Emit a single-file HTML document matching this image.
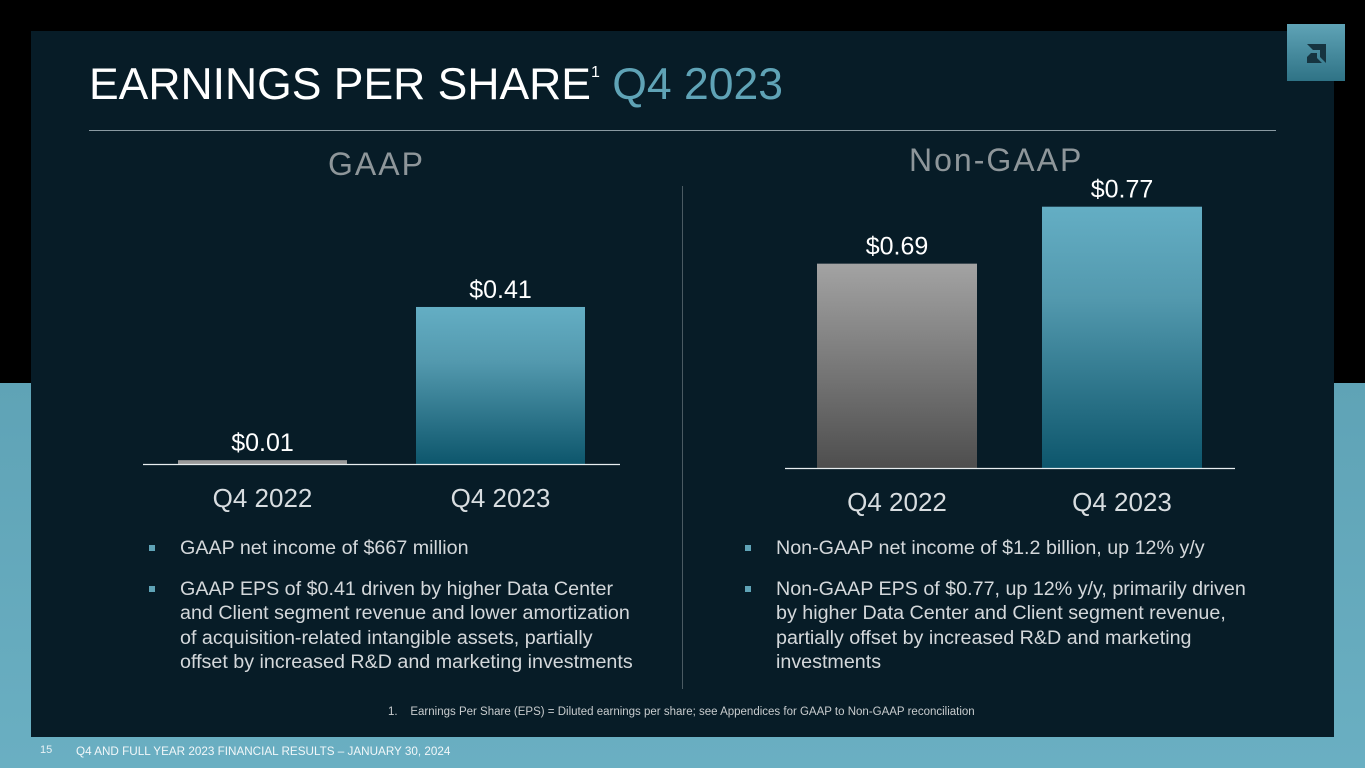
<!DOCTYPE html>
<html><head><meta charset="utf-8"><style>
body{margin:0;width:1365px;height:768px;position:relative;overflow:hidden;font-family:"Liberation Sans",sans-serif;background:linear-gradient(180deg,#000 0,#000 383px,#5fa3b6 383px,#6aafc2 768px);}
.abs{position:absolute}
#panel{left:31px;top:31px;width:1303px;height:706px;background:#071c27}
.t{color:#fff;white-space:nowrap}
ul{margin:0;padding:0;list-style:none}
li{position:relative;padding-left:32px;color:#d4d8db;font-size:19.7px;line-height:24.5px;margin-bottom:16px}
li:before{content:"";position:absolute;left:1px;top:9px;width:6px;height:6px;background:#5fa3b6}
</style></head><body>
<div id="panel" class="abs"></div>
<div class="abs" style="left:1287px;top:24px;width:58px;height:57px;background:linear-gradient(180deg,#5fa3b6,#2f7386)">
<svg width="58" height="57"><polygon points="20,20 39,20 39,39 33,33 33,26 26,26" fill="#163440"/><polygon points="24,29 30,29 30,34 35,39 20,39 20,33" fill="#163440"/></svg></div>
<div class="abs t" style="left:89px;top:60px;font-size:44.5px;">EARNINGS PER SHARE<sup style="font-size:16px;position:relative;top:-6px">1</sup> <span style="color:#5fa3b6">Q4 2023</span></div>
<div class="abs" style="left:89px;top:130px;width:1187px;height:1px;background:#8a9aa2"></div>
<div class="abs" style="left:682px;top:186px;width:1px;height:503px;background:#4a5a62"></div>
<div class="abs t" style="left:328px;top:146px;font-size:32px;letter-spacing:2px;color:#8e969a">GAAP</div>
<div class="abs t" style="left:909px;top:142px;font-size:32px;letter-spacing:2px;color:#8e969a">Non-GAAP</div>
<svg class="abs" style="left:0;top:0" width="1365" height="768" id="chart">
<defs>
<linearGradient id="gT" x1="0" y1="0" x2="0" y2="1"><stop offset="0" stop-color="#64aec4"/><stop offset="0.35" stop-color="#5399ae"/><stop offset="1" stop-color="#0d566c"/></linearGradient>
<linearGradient id="gG" x1="0" y1="0" x2="0" y2="1"><stop offset="0" stop-color="#a3a3a3"/><stop offset="1" stop-color="#4e4e4e"/></linearGradient>
</defs></svg>
<div class="abs" style="left:148px;top:536px;width:487px"><ul>
<li>GAAP net income of $667 million</li>
<li>GAAP EPS of $0.41 driven by higher Data Center and Client segment revenue and lower amortization of acquisition-related intangible assets, partially offset by increased R&amp;D and marketing investments</li></ul></div>
<div class="abs" style="left:744px;top:536px;width:517px"><ul>
<li>Non-GAAP net income of $1.2 billion, up 12% y/y</li>
<li>Non-GAAP EPS of $0.77, up 12% y/y, primarily driven by higher Data Center and Client segment revenue, partially offset by increased R&amp;D and marketing investments</li></ul></div>
<div class="abs t" style="left:388px;top:706px;font-size:11.5px;color:#c8ccce">1.&nbsp;&nbsp;&nbsp;&nbsp;Earnings Per Share (EPS) = Diluted earnings per share; see Appendices for GAAP to Non-GAAP reconciliation</div>
<div class="abs t" style="left:40px;top:744px;font-size:11px;color:#e8f2f5">15</div>
<div class="abs t" style="left:76px;top:745px;font-size:11.7px;color:#f2f7f9">Q4 AND FULL YEAR 2023 FINANCIAL RESULTS – JANUARY 30, 2024</div>
<script>
const categories=["Q4 2022","Q4 2023"];
const gaapValues=[0.01,0.41];
const nonGaapValues=[0.69,0.77];
const gaapLabels=["$0.01","$0.41"];
const nonGaapLabels=["$0.69","$0.77"];
const svg=document.getElementById('chart');
const NS="http://www.w3.org/2000/svg";
function mk(t,a){const e=document.createElementNS(NS,t);for(const k in a)e.setAttribute(k,a[k]);svg.appendChild(e);return e;}
function draw(cfg,vals,labels,prefix){
  const y=v=>cfg.base-(v-cfg.min)*cfg.k;
  vals.forEach((v,i)=>{
    const x=cfg.x0+i*cfg.step, top=Math.min(y(v),cfg.base-3);
    const r=mk('rect',{x:x,y:top,width:cfg.w,height:cfg.base-top,fill:i===0?(prefix==='gaap'?'#9a9a9a':'url(#gG)'):'url(#gT)'});
    
    
    const t=mk('text',{x:x+cfg.w/2,y:top-9,'text-anchor':'middle','font-size':25,fill:'#fff'});t.textContent=labels[i];
    
    
    const c=mk('text',{x:x+cfg.w/2,y:cfg.base+43,'text-anchor':'middle','font-size':26,fill:'#d8dde0'});c.textContent=categories[i];
    
    
  });
  const l=mk('line',{x1:cfg.ax0,x2:cfg.ax1,y1:cfg.base+0.5,y2:cfg.base+0.5,stroke:'#e8eef0','stroke-width':1.2});
  
  
}
draw({base:464,min:0,k:383,x0:178,step:238,w:169,ax0:143,ax1:620},gaapValues,gaapLabels,'gaap');
draw({base:468,min:0.403,k:712,x0:817,step:225,w:160,ax0:785,ax1:1235},nonGaapValues,nonGaapLabels,'non-gaap');
</script>
</body></html>
